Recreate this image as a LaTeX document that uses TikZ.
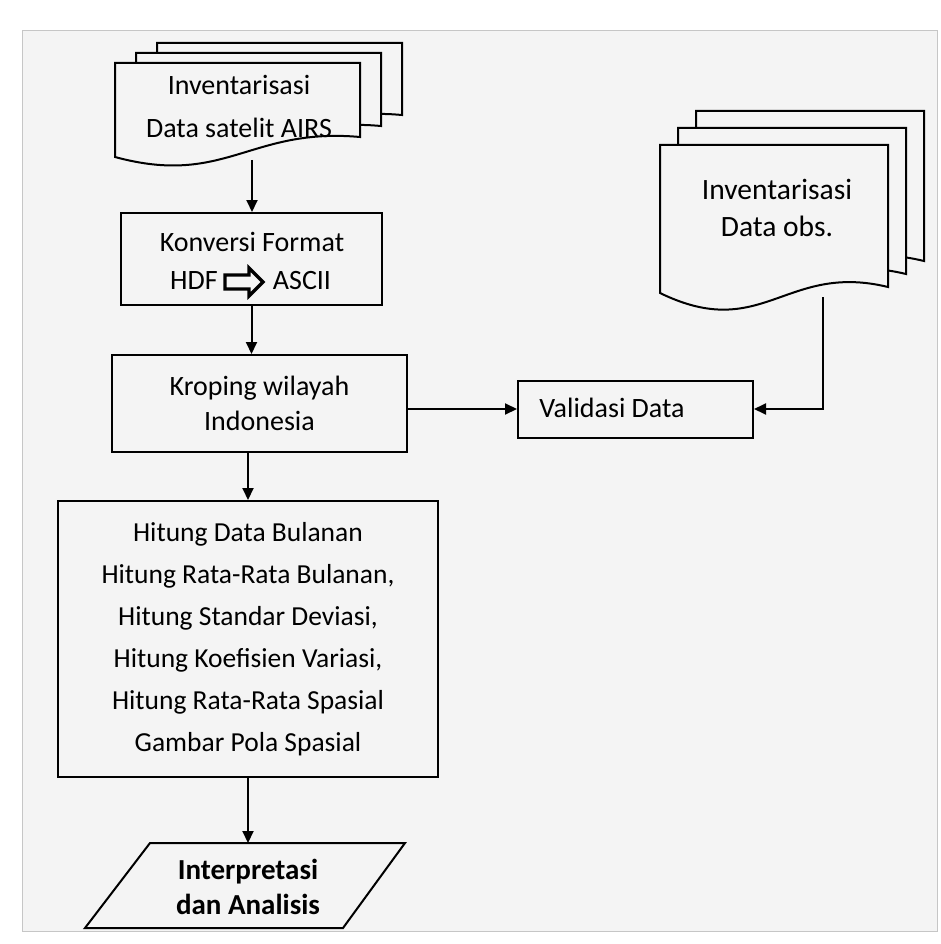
\documentclass[tikz,border=0pt]{standalone}
\usepackage{fontspec}
\setmainfont{Carlito}
\usetikzlibrary{arrows.meta,calc}
\definecolor{paper}{gray}{0.955}
\newcommand\docpage[7]{% L T R yL yR dip rise
  \filldraw[page] (#1,#4) -- (#1,#2) -- (#3,#2) -- (#3,#5)
    .. controls ({#1+0.55*(#3-#1)},{#5-#7}) and ({#1+0.45*(#3-#1)},{#4+#6}) .. (#1,#4) -- cycle;}
\begin{document}
\begin{tikzpicture}[x=1pt,y=-1pt,
  box/.style={draw, line width=2pt, fill=paper, inner sep=0pt},
  txt/.style={inner sep=0pt, align=center, font=\fontsize{28}{35}\selectfont},
  conn/.style={line width=2pt, -{Triangle[length=12pt,width=11pt]}},
  page/.style={draw, line width=2pt, fill=paper, line join=miter}]
\useasboundingbox (0,0) rectangle (940,944);
\fill[white] (0,0) rectangle (940,944);
\filldraw[fill=paper, draw=gray!45, line width=0.8pt] (22,30) rectangle (937,931);

% ---- document stack: AIRS
\docpage{157}{43}{402}{137}{115}{30}{10}
\docpage{136}{53}{381}{147}{126}{30}{10}
\docpage{115}{63}{360}{157}{137}{30}{10}
\node[txt, font=\fontsize{28}{43}\selectfont] (airs) at (239,106) {Inventarisasi\\Data satelit AIRS};
\coordinate (airsB) at (252,160);

% ---- document stack: obs
\docpage{696}{111}{924}{259}{261}{50}{25}
\docpage{678}{128}{906}{276}{274}{50}{25}
\docpage{660}{145}{888}{293}{287}{50}{25}
\node[txt, font=\fontsize{29.5}{37}\selectfont] (obs) at (777,208) {Inventarisasi\\Data obs.};
\coordinate (obsB) at (823,297);

% ---- Konversi
\node[box, minimum width=261pt, minimum height=92pt] (konv) at (251.5,259) {};
\node[txt] (konvt) at (252,242) {Konversi Format};
\node[txt] (hdf) at (194,281) {HDF};
\node[txt] (ascii) at (302,281) {ASCII};
\draw[line width=3.2pt, line join=miter, fill=paper]
  (225,275) -- (249,275) -- (249,268) -- (263,282) -- (249,296) -- (249,289) -- (225,289) -- cycle;

% ---- Kroping
\node[box, minimum width=295pt, minimum height=97pt, align=center,
      font=\fontsize{28}{35}\selectfont] (krop) at (259.5,403.5) {Kroping wilayah\\Indonesia};

% ---- Validasi
\node[box, minimum width=235pt, minimum height=57pt] (valid) at (635.5,409) {};
\node[txt] (validt) at (612,408) {Validasi Data};

% ---- big box
\node[box, minimum width=380pt, minimum height=276pt, align=center,
      font=\fontsize{27.5}{42}\selectfont] (big) at (248,639)
  {Hitung Data Bulanan\\Hitung Rata-Rata Bulanan,\\Hitung Standar Deviasi,\\Hitung Koefisien Variasi,\\Hitung Rata-Rata Spasial\\Gambar Pola Spasial};

% ---- Interpretasi (parallelogram)
\coordinate (pTL) at (150,843);
\coordinate (pTR) at (405,843);
\coordinate (pBR) at (343,928);
\coordinate (pBL) at (85,928);
\filldraw[page] (pTL) -- (pTR) -- (pBR) -- (pBL) -- cycle;
\node[txt, font=\bfseries\fontsize{29}{35}\selectfont] (interp) at (248,887) {Interpretasi\\dan Analisis};
\coordinate (interpTop) at (248,843);

% ---- connectors
\draw[conn] (airsB) -- (airsB |- konv.north);
\draw[conn] (konv.south) -- (konv.south |- krop.north);
\draw[conn] (krop.east |- valid.west) -- (valid.west);
\draw[conn] (obsB) |- (valid.east);
\draw[conn] (big.north |- krop.south) -- (big.north);
\draw[conn] (big.south) -- (interpTop);
\end{tikzpicture}
\end{document}
